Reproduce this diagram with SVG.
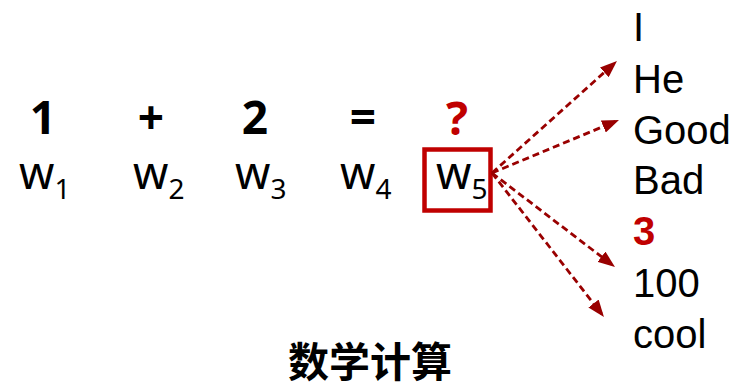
<svg xmlns="http://www.w3.org/2000/svg" width="739" height="385" viewBox="0 0 739 385">
<style>
.top{font-family:"Noto Sans","Liberation Sans",sans-serif;font-weight:bold;font-size:46px;fill:#000;text-anchor:middle}
.w{font-family:"Noto Sans","Liberation Sans",sans-serif;font-size:45px;fill:#000}
.sub{font-size:28px}
.opt{font-family:"Liberation Sans","Noto Sans",sans-serif;font-size:40px;fill:#000}
text.red{fill:#C00000}
.arrow{stroke:#990000;stroke-width:2.8;stroke-dasharray:7,4;fill:none;marker-end:url(#ah)}
.title{font-family:"Noto Sans CJK SC","Noto Sans",sans-serif;font-weight:bold;font-size:41px;fill:#000;text-anchor:middle}
</style>
<defs>
<marker id="ah" viewBox="0 0 17 13" refX="13" refY="6.5" markerWidth="17" markerHeight="13" markerUnits="userSpaceOnUse" orient="auto">
<path d="M0,0 L17,6.5 L0,13 z" fill="#990000"/>
</marker>
</defs>
<g id="tokens">
<g id="t1"><text class="top" x="43" y="134">1</text><text class="w" x="19" y="189">w<tspan class="sub" dy="10">1</tspan></text></g>
<g id="t2"><text class="top" x="151" y="134">+</text><text class="w" x="133" y="189">w<tspan class="sub" dy="10">2</tspan></text></g>
<g id="t3"><text class="top" x="255" y="134">2</text><text class="w" x="235" y="189">w<tspan class="sub" dy="10">3</tspan></text></g>
<g id="t4"><text class="top" x="363" y="134">=</text><text class="w" x="340" y="189">w<tspan class="sub" dy="10">4</tspan></text></g>
<g id="t5"><text class="top red" x="457" y="135">?</text><rect x="424.5" y="149.5" width="66" height="61" fill="none" stroke="#C00000" stroke-width="4.5"/><text class="w" x="436" y="189">w<tspan class="sub" dy="10">5</tspan></text></g>
</g>
<g id="connectors">
<line class="arrow" x1="492" y1="173" x2="614" y2="63.7"/>
<line class="arrow" x1="492" y1="173" x2="615.3" y2="121.5"/>
<line class="arrow" x1="492" y1="173" x2="611.8" y2="264.6"/>
<line class="arrow" x1="492" y1="173" x2="601.5" y2="313.8"/>
</g>
<g id="options">
<text class="opt" x="633" y="41">I</text>
<text class="opt" x="633" y="93">He</text>
<text class="opt" x="633" y="144">Good</text>
<text class="opt" x="633" y="194">Bad</text>
<text class="opt red" x="633" y="245" font-weight="bold">3</text>
<text class="opt" x="633" y="297">100</text>
<text class="opt" x="633" y="348">cool</text>
</g>
<g id="caption"><text class="title" x="370" y="377">数学计算</text></g>
</svg>
